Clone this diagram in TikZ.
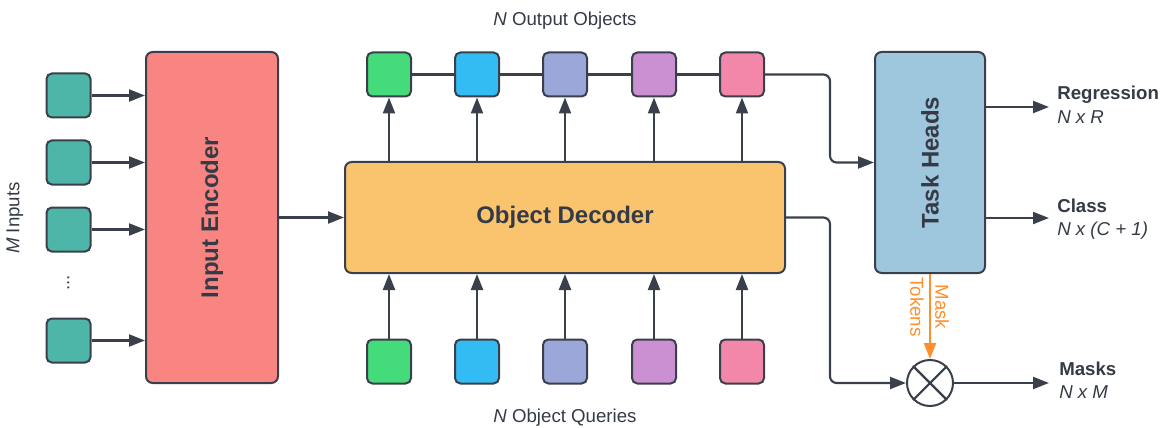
\documentclass[tikz,border=0pt]{standalone}
\usepackage{fontspec}
\setmainfont{Liberation Sans}
\usetikzlibrary{arrows.meta,calc}
\definecolor{strk}{HTML}{3A404B}
\definecolor{txt}{HTML}{353B46}
\definecolor{teal}{HTML}{4DB6A9}
\definecolor{encc}{HTML}{F88582}
\definecolor{decc}{HTML}{FAC36E}
\definecolor{thc}{HTML}{9EC6DD}
\definecolor{sqA}{HTML}{44DB7A}
\definecolor{sqB}{HTML}{33BBF3}
\definecolor{sqC}{HTML}{9AA7D8}
\definecolor{sqD}{HTML}{CA90D1}
\definecolor{sqE}{HTML}{F387A9}
\definecolor{orng}{HTML}{FF8F2C}
\tikzset{
  sq/.style={draw=strk, line width=1.5pt, rounded corners=4pt, minimum width=33pt, minimum height=33pt, inner sep=0pt},
  bigbox/.style={draw=strk, line width=1.5pt, rounded corners=5pt, inner sep=0pt, text=txt, font=\fontsize{18}{20}\selectfont\bfseries},
  conn/.style={draw=strk, line width=1.6pt, -{Triangle[length=12pt,width=9pt]}},
  plain/.style={draw=strk, line width=1.6pt},
  lbl/.style={text=txt, font=\fontsize{14}{16}\selectfont, inner sep=0pt},
  blbl/.style={text=txt, font=\fontsize{14}{16}\selectfont\bfseries, inner sep=0pt},
}
\begin{document}
\begin{tikzpicture}[x=0.75pt,y=-0.75pt]
\useasboundingbox (0,0) rectangle (1165,428);
% input squares
\node[sq, fill=teal] (i1) at (68.5,95.5) {};
\node[sq, fill=teal] (i2) at (68.5,162.5) {};
\node[sq, fill=teal] (i3) at (68.5,229.5) {};
\node[sq, fill=teal] (i4) at (68.5,340.5) {};
\node[lbl, rotate=90] (dots) at (68.5,283) {...};
\node[lbl, rotate=90] (minp) at (15,218) {\textit{M} Inputs};
% encoder
\node[bigbox, fill=encc, minimum width=99pt, minimum height=248.25pt] (enc) at (212,217.5) {};
\node[bigbox, draw=none, rotate=90] (enclbl) at (enc.center) {Input Encoder};
% decoder
\node[bigbox, fill=decc, minimum width=330pt, minimum height=83.25pt] (dec) at (565,217.5) {Object Decoder};
% task heads
\node[bigbox, fill=thc, minimum width=82.5pt, minimum height=165.75pt] (th) at (930,162.5) {};
\node[bigbox, draw=none, rotate=90] (thlbl) at (th.center) {Task Heads};
% output squares
\node[sq, fill=sqA] (o1) at (389,74.5) {};
\node[sq, fill=sqB] (o2) at (477,74.5) {};
\node[sq, fill=sqC] (o3) at (565,74.5) {};
\node[sq, fill=sqD] (o4) at (654,74.5) {};
\node[sq, fill=sqE] (o5) at (742,74.5) {};
% query squares
\node[sq, fill=sqA] (q1) at (389,361.5) {};
\node[sq, fill=sqB] (q2) at (477,361.5) {};
\node[sq, fill=sqC] (q3) at (565,361.5) {};
\node[sq, fill=sqD] (q4) at (654,361.5) {};
\node[sq, fill=sqE] (q5) at (742,361.5) {};
\node[lbl, anchor=base] (outl) at (565,26) {\textit{N} Output Objects};
\node[lbl, anchor=base] (ql) at (565,422) {\textit{N} Object Queries};
% multiply circle
\node[circle, draw=strk, line width=1.5pt, fill=white, minimum size=34.5pt, inner sep=0pt] (mul) at (930,383) {};
\draw[plain] (mul.north west) -- (mul.south east);
\draw[plain] (mul.north east) -- (mul.south west);
% junction coordinates
\coordinate (j1) at (830,74.5);
\coordinate (j2) at (830,217.5);
\coordinate (rr) at (1049,107);
\coordinate (rc) at (1049,218);
\coordinate (rm) at (1049,383);
% connectors
\foreach \i in {i1,i2,i3,i4} \draw[conn] (\i.east) -- (\i.east -| enc.west);
\draw[conn] (enc.east |- dec.west) -- (dec.west);
\foreach \k in {1,...,5} {
  \draw[conn] (dec.north -| o\k) -- (o\k.south);
  \draw[conn] (q\k.north) -- (dec.south -| q\k);
}
\draw[plain] (o1.east) -- (o2.west) (o2.east) -- (o3.west) (o3.east) -- (o4.west) (o4.east) -- (o5.west);
\draw[conn, rounded corners=5pt] (o5.east) -- (j1) |- (th.west);
\draw[conn, rounded corners=5pt] (dec.east) -- (j2) |- (mul.west);
\draw[conn] (th.east |- rr) -- (rr);
\draw[conn] (th.east |- rc) -- (rc);
\draw[conn] (mul.east) -- (rm);
\draw[draw=orng, line width=1.6pt, -{Triangle[length=12pt,width=9pt]}] (th.south) -- (mul.north);
\node[lbl, text=orng, rotate=-90] (mk) at (942,307) {Mask};
\node[lbl, text=orng, rotate=-90] (tk) at (917,307) {Tokens};
% right labels
\node[blbl, anchor=base west] (reg) at (1057,100) {Regression};
\node[lbl, anchor=base west] (regd) at (1057,123) {\textit{N x R}};
\node[blbl, anchor=base west] (cls) at (1057,212) {Class};
\node[lbl, anchor=base west] (clsd) at (1057,235) {\textit{N x (C + 1)}};
\node[blbl, anchor=base west] (msk) at (1059,375) {Masks};
\node[lbl, anchor=base west] (mskd) at (1059,398) {\textit{N x M}};
\end{tikzpicture}
\end{document}
